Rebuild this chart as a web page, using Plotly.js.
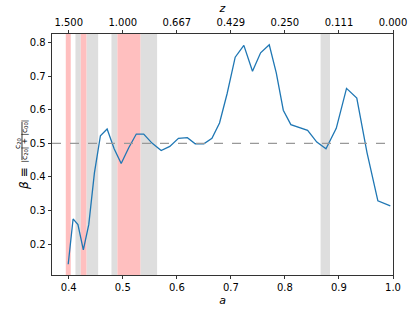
<!DOCTYPE html>
<html>
<head>
<meta charset="utf-8">
<script src="https://cdn.plot.ly/plotly-3.0.1.min.js"></script>
<style>html,body{margin:0;padding:0;background:#fff;}#chart{width:415px;height:312px;}</style>
</head>
<body>
<div id="chart"></div>
<script>
// Scale factor a and asymmetry beta
const aValues = [0.399,0.408,0.417,0.427,0.437,0.4475,0.4586,0.471,0.484,0.497,0.511,0.525,0.5387,0.554,0.571,0.587,0.603,0.6195,0.634,0.65,0.665,0.679,0.693,0.708,0.724,0.740,0.755,0.771,0.784,0.797,0.811,0.827,0.842,0.859,0.876,0.895,0.914,0.933,0.952,0.972,0.995];
const betaValues = [0.140,0.275,0.258,0.183,0.258,0.412,0.523,0.543,0.484,0.440,0.487,0.528,0.528,0.501,0.479,0.491,0.515,0.517,0.499,0.499,0.515,0.561,0.648,0.757,0.792,0.715,0.770,0.794,0.710,0.599,0.556,0.546,0.539,0.504,0.484,0.545,0.664,0.635,0.472,0.329,0.314];

// shaded intervals in a
const pinkStarts = [0.3945,0.4222,0.490];
const pinkEnds   = [0.4037,0.4327,0.5326];
const grayStarts = [0.4124,0.4327,0.479,0.5326,0.866];
const grayEnds   = [0.4222,0.4544,0.490,0.5635,0.8834];

// axes
const xTicks = [0.4,0.5,0.6,0.7,0.8,0.9,1.0];
const xTickText = ['0.4','0.5','0.6','0.7','0.8','0.9','1.0'];
const zTickText = ['1.500','1.000','0.667','0.429','0.250','0.111','0.000'];
const yTicks = [0.2,0.3,0.4,0.5,0.6,0.7,0.8];
const refLine = 0.5;

const font = {family:'DejaVu Sans, sans-serif', size:10, color:'#000'};
const shapes = [];
for (let i=0;i<grayStarts.length;i++) shapes.push({type:'rect',xref:'x',yref:'paper',x0:grayStarts[i],x1:grayEnds[i],y0:0,y1:1,fillcolor:'#dedede',line:{width:0},layer:'below'});
for (let i=0;i<pinkStarts.length;i++) shapes.push({type:'rect',xref:'x',yref:'paper',x0:pinkStarts[i],x1:pinkEnds[i],y0:0,y1:1,fillcolor:'#ffbfbf',line:{width:0},layer:'below'});
shapes.push({type:'line',xref:'paper',yref:'y',x0:0,x1:1,y0:refLine,y1:refLine,line:{color:'#999999',width:1.2,dash:'dash'}});
// fraction bar of y label
shapes.push({type:'line',xref:'paper',yref:'paper',x0:-0.088,x1:-0.088,y0:0.477,y1:0.635,line:{color:'#000',width:0.8}});

const xr = [0.369,1.0];
const data = [
  {x:aValues,y:betaValues,type:'scatter',mode:'lines',line:{color:'#1f77b4',width:1.3},hoverinfo:'skip',showlegend:false},
  {x:[xr[0],xr[1]],y:[null,null],xaxis:'x2',yaxis:'y',type:'scatter',mode:'lines',showlegend:false,hoverinfo:'skip'}
];
const layout = {
  width:415,height:312,
  margin:{l:52,r:22,t:34,b:37},
  paper_bgcolor:'#fff',plot_bgcolor:'#fff',
  font:font,showlegend:false,
  xaxis:{range:xr,tickvals:xTicks,ticktext:xTickText,ticks:'outside',ticklen:3.5,tickwidth:0.8,tickcolor:'#000',
    showline:true,linecolor:'#000',linewidth:0.8,mirror:true,showgrid:false,zeroline:false,tickfont:font,
    title:{text:'<i>a</i>',font:{family:'DejaVu Sans, sans-serif',size:11},standoff:3}},
  xaxis2:{range:xr,overlaying:'x',side:'top',tickvals:xTicks,ticktext:zTickText,ticks:'outside',ticklen:3.5,tickwidth:0.8,tickcolor:'#000',
    showline:false,showgrid:false,zeroline:false,tickfont:font,
    title:{text:'<i>z</i>',font:{family:'DejaVu Sans, sans-serif',size:11},standoff:1}},
  yaxis:{range:[0.108,0.826],tickvals:yTicks,tickformat:'.1f',ticks:'outside',ticklen:3.5,tickwidth:0.8,tickcolor:'#000',
    showline:true,linecolor:'#000',linewidth:0.8,mirror:true,showgrid:false,zeroline:false,tickfont:font},
  shapes:shapes,
  annotations:[
    {xref:'paper',yref:'paper',x:-0.0674,y:0.398,xshift:-5,text:'<i>β</i> ≡',textangle:-90,showarrow:false,xanchor:'center',yanchor:'middle',font:{family:'DejaVu Sans, sans-serif',size:12}},
    {xref:'paper',yref:'paper',x:-0.0894,y:0.547,xshift:-3.7,text:'c<sub>20</sub>',textangle:-90,showarrow:false,xanchor:'center',yanchor:'middle',font:{family:'DejaVu Sans, sans-serif',size:7.5}},
    {xref:'paper',yref:'paper',x:-0.0674,y:0.556,xshift:-4.5,text:'|c<sub>20</sub>| + |c<sub>00</sub>|',textangle:-90,showarrow:false,xanchor:'center',yanchor:'middle',font:{family:'DejaVu Sans, sans-serif',size:7.5}}
  ]
};
Plotly.newPlot('chart',data,layout,{displayModeBar:false,staticPlot:true});
</script>
</body>
</html>
